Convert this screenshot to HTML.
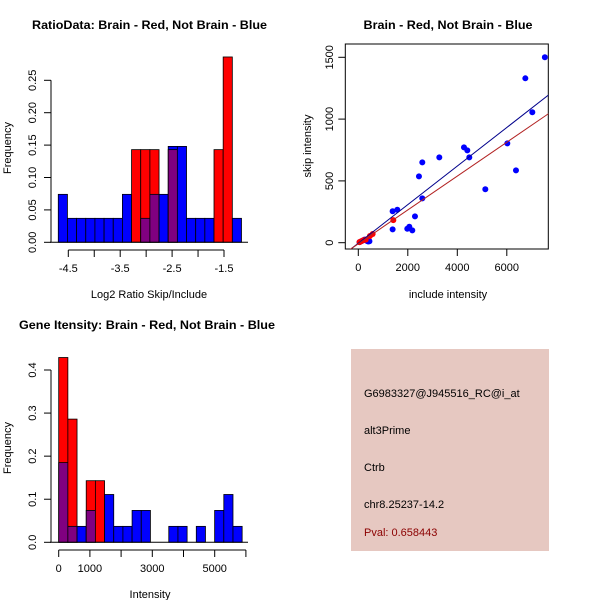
<!DOCTYPE html>
<html><head><meta charset="utf-8"><style>
html,body{margin:0;padding:0;background:#fff;}
svg{display:block;font-family:"Liberation Sans",sans-serif;}
</style></head><body>
<svg id="chart" width="600" height="600" viewBox="0 0 600 600">
<rect width="600" height="600" fill="#fff"/>
<g id="p1"></g>
<g id="p2"></g>
<g id="p3"></g>
<g id="p4">
<rect x="351" y="349" width="198" height="202" fill="#E6C8C1"/>
<text x="364" y="397" font-size="11">G6983327@J945516_RC@i_at</text>
<text x="364" y="434" font-size="11">alt3Prime</text>
<text x="364" y="471" font-size="11">Ctrb</text>
<text x="364" y="508" font-size="11">chr8.25237-14.2</text>
<text x="364" y="536" font-size="11" fill="#8B0000">Pval: 0.658443</text>
</g>
</svg>
<script>
// ---- Ratio histogram data ----
const ratioBinStart = -4.693;
const ratioBinWidth = 0.1765;
const ratioBlue = [0.074,0.037,0.037,0.037,0.037,0.037,0.037,0.074,0,0.037,0.074,0.074,0.148,0.148,0.037,0.037,0.037,0,0,0.037];
const ratioRed  = [0,0,0,0,0,0,0,0,0.143,0.143,0.143,0,0.143,0,0,0,0,0.143,0.286,0];
const ratioXTicks = [-4.5,-4,-3.5,-3,-2.5,-2,-1.5];
const ratioXLabels = [-4.5,-3.5,-2.5,-1.5];
const ratioYTicks = [0,0.05,0.10,0.15,0.20,0.25];
// ---- Intensity histogram data ----
const intBinStart = 0;
const intBinWidth = 294;
const intBlue = [0.185,0.037,0.037,0.074,0,0.111,0.037,0.037,0.074,0.074,0,0,0.037,0.037,0,0.037,0,0.074,0.111,0.037];
const intRed  = [0.429,0.286,0,0.143,0.143,0,0,0,0,0,0,0,0,0,0,0,0,0,0,0];
const intXTicks = [0,1000,2000,3000,4000,5000,6000];
const intXLabels = [0,1000,3000,5000];
const intYTicks = [0,0.1,0.2,0.3,0.4];
// ---- Scatter data ----
const blueInclude = [7538,6749,7031,6021,6371,4270,4405,4485,3273,2586,2451,2586,5132,2290,2061,1980,2182,1387,1576,1387,50,150,250,300,350,400,450];
const blueSkip    = [1500,1330,1055,804,585,771,747,690,690,650,537,359,432,213,129,113,100,254,267,108,5,15,25,20,15,10,12];
const redInclude  = [579,470,1414,200,100,50,300];
const redSkip     = [70,54,183,20,10,5,25];
const blueFit = [-4, 0.156];
const redFit  = [-9, 0.137];
const scXTicks = [0,2000,4000,6000];
const scYTicks = [0,500,1000,1500];

const NS="http://www.w3.org/2000/svg";
function mk(parent,tag,attrs,text){const e=document.createElementNS(NS,tag);for(const k in attrs)e.setAttribute(k,attrs[k]);if(text!==undefined)e.textContent=text;parent.appendChild(e);return e;}

function histogram(g,o){
  const X=v=>o.x0+(v-o.v0)*o.sx, Y=v=>o.y0-v*o.sy;
  for(let i=0;i<o.blue.length;i++){
    const a=o.binStart+i*o.binW, b=a+o.binW;
    const bl=o.blue[i], rd=o.red[i], mx=Math.max(bl,rd), mn=Math.min(bl,rd);
    if(mx>0){
      const r=mk(g,'rect',{x:X(a),y:Y(mx),width:X(b)-X(a),height:Y(0)-Y(mx),fill:bl>=rd?'#0000FF':'#FF0000',stroke:'#000','stroke-width':0.8});
      
      
    }
    if(mn>0){
      const r=mk(g,'rect',{x:X(a),y:Y(mn),width:X(b)-X(a),height:Y(0)-Y(mn),fill:'#800080',stroke:'#000','stroke-width':0.8});
      
      
    }
  }
  const base=mk(g,'line',{x1:50,x2:248,y1:Y(0),y2:Y(0),stroke:'#000'});
  
  
  const ax=o.axisY;
  const xa=mk(g,'line',{x1:X(o.xTicks[0]),x2:X(o.xTicks[o.xTicks.length-1]),y1:ax,y2:ax,stroke:'#000'});
  
  
  o.xTicks.forEach(t=>mk(g,'line',{x1:X(t),x2:X(t),y1:ax,y2:ax+7,stroke:'#000'}));
  o.xLabels.forEach(t=>{const e=mk(g,'text',{x:X(t),y:ax+22,'font-size':11,'text-anchor':'middle'},String(t));
    
    });
  const ya=mk(g,'line',{x1:51,x2:51,y1:Y(o.yTicks[0]),y2:Y(o.yTicks[o.yTicks.length-1]),stroke:'#000'});
  
  
  o.yTicks.forEach(t=>{mk(g,'line',{x1:44,x2:51,y1:Y(t),y2:Y(t),stroke:'#000'});
    const e=mk(g,'text',{x:36,y:Y(t),'font-size':11,'text-anchor':'middle',transform:`rotate(-90 36 ${Y(t)})`},t.toFixed(o.dec));
    
    });
  const yl=mk(g,'text',{x:11,y:o.yLabY,'font-size':11,'text-anchor':'middle',transform:`rotate(-90 11 ${o.yLabY})`},'Frequency');
  
  
  const xl=mk(g,'text',{x:o.xLabX,y:o.xLabBase,'font-size':11,'text-anchor':'middle'},o.xLab);
  
  
  const tt=mk(g,'text',{x:o.titleX,y:o.titleY,'font-size':12,'font-weight':'bold','text-anchor':'middle',textLength:o.titleW,lengthAdjust:'spacingAndGlyphs'},o.title);
  
  
}

histogram(document.getElementById('p1'),{x0:68.3,v0:-4.5,sx:51.9,y0:242.3,sy:648,binStart:ratioBinStart,binW:ratioBinWidth,
  blue:ratioBlue,red:ratioRed,xTicks:ratioXTicks,xLabels:ratioXLabels,yTicks:ratioYTicks,dec:2,axisY:250,
  yLabY:148,xLab:'Log2 Ratio Skip/Include',xLabX:149,xLabBase:298,title:'RatioData: Brain - Red, Not Brain - Blue',titleX:149.5,titleY:29,titleW:235});
histogram(document.getElementById('p3'),{x0:58.7,v0:0,sx:0.0312,y0:542.3,sy:430.75,binStart:intBinStart,binW:intBinWidth,
  blue:intBlue,red:intRed,xTicks:intXTicks,xLabels:intXLabels,yTicks:intYTicks,dec:1,axisY:550,
  yLabY:448,xLab:'Intensity',xLabX:150,xLabBase:598,title:'Gene Itensity: Brain - Red, Not Brain - Blue',titleX:147,titleY:329,titleW:256});

// scatter
(function(){
  const g=document.getElementById('p2');
  const L=345.3,R=548.3,T=44,B=249;
  const X=v=>358.3+v*0.02475, Y=v=>242.7-v*0.1236;
  const box=mk(g,'rect',{x:L,y:T,width:R-L,height:B-T,fill:'none',stroke:'#000'});
  
  
  const cp=mk(g,'clipPath',{id:'scclip'});
  mk(cp,'rect',{x:L,y:T,width:R-L,height:B-T});
  blueInclude.forEach((v,i)=>{const c=mk(g,'circle',{cx:X(v),cy:Y(blueSkip[i]),r:3,fill:'#0000FF'});
    
    });
  redInclude.forEach((v,i)=>{const c=mk(g,'circle',{cx:X(v),cy:Y(redSkip[i]),r:3,fill:'#FF0000'});
    
    });
  [[blueFit,'#00008B','blue-fit-line'],[redFit,'#B22222','red-fit-line']].forEach(([f,col,nm])=>{
    const a=-600,b=8200;
    const l=mk(g,'line',{x1:X(a),y1:Y(f[0]+f[1]*a),x2:X(b),y2:Y(f[0]+f[1]*b),stroke:col,'stroke-width':1,'clip-path':'url(#scclip)'});
    
    });
  scXTicks.forEach(t=>{mk(g,'line',{x1:X(t),x2:X(t),y1:B,y2:B+7,stroke:'#000'});
    const e=mk(g,'text',{x:X(t),y:B+22,'font-size':11,'text-anchor':'middle'},String(t));
    
    });
  scYTicks.forEach(t=>{mk(g,'line',{x1:L-7,x2:L,y1:Y(t),y2:Y(t),stroke:'#000'});
    const e=mk(g,'text',{x:333,y:Y(t),'font-size':11,'text-anchor':'middle',transform:`rotate(-90 333 ${Y(t)})`},String(t));
    
    });
  const xl=mk(g,'text',{x:448,y:298,'font-size':11,'text-anchor':'middle'},'include intensity');
  
  
  const yl=mk(g,'text',{x:311,y:146,'font-size':11,'text-anchor':'middle',transform:'rotate(-90 311 146)'},'skip intensity');
  
  
  const tt=mk(g,'text',{x:448,y:29,'font-size':12,'font-weight':'bold','text-anchor':'middle',textLength:169,lengthAdjust:'spacingAndGlyphs'},'Brain - Red, Not Brain - Blue');
  
  
})();
</script>
</body></html>
